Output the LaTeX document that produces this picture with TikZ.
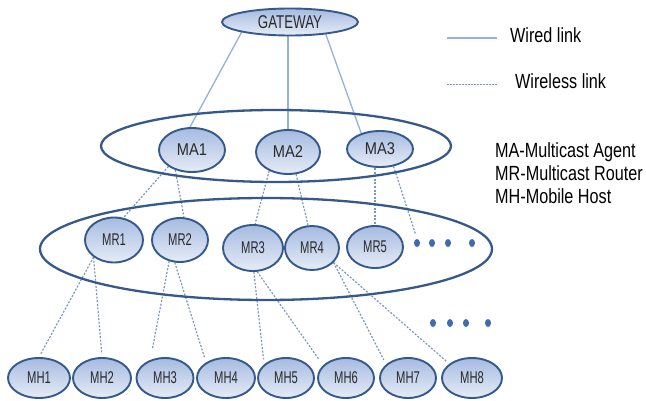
\documentclass[tikz,border=0pt]{standalone}
\usepackage{fontspec}
\usepackage{graphicx}
\setmainfont{Liberation Sans}
\usetikzlibrary{shapes.geometric}
\definecolor{nodeborder}{HTML}{34598A}
\definecolor{nodetop}{HTML}{A6BBE1}
\definecolor{nodebot}{HTML}{E6ECF7}
\definecolor{labelgrey}{HTML}{2A2A2A}
\definecolor{wirecol}{HTML}{93B1DD}
\definecolor{dotcol}{HTML}{3D6DB0}
\newcommand\narrowlab[2]{\scalebox{#1}[1]{#2}}
\pgfdeclarelayer{bg}
\pgfsetlayers{bg,main}
\tikzset{
  hub/.style={ellipse, draw=nodeborder, line width=1.9pt, top color=nodetop,
    bottom color=nodebot, inner sep=0pt, text=labelgrey},
  ring/.style={ellipse, draw=nodeborder, line width=2.3pt, inner sep=0pt},
  wired/.style={draw=wirecol, line width=1.3pt},
  wireless/.style={draw=wirecol!85!black, line width=1.2pt, dash pattern=on 2pt off 1.6pt},
  blob/.style={ellipse, fill=dotcol, minimum width=6, minimum height=8, inner sep=0pt},
  mrlab/.style={font=\fontsize{17}{19}\selectfont},
  legtext/.style={font=\fontsize{20.5}{23}\selectfont, text=black, inner sep=0pt}
}
\begin{document}
\begin{tikzpicture}[x=1pt,y=-1pt]
\useasboundingbox (0,0) rectangle (646,401);
% rings
\node[ring, minimum width=350, minimum height=72] (maring) at (276,146) {};
\node[ring, minimum width=452, minimum height=102] (mrring) at (266,249) {};
% gateway
\node[hub, minimum width=136, minimum height=27, font=\fontsize{18.5}{20}\selectfont] (gw) at (290,22) {\narrowlab{0.72}{GATEWAY}};
% MA
\node[hub, mrlab, minimum width=66, minimum height=44] (ma1) at (192,150) {\narrowlab{0.86}{MA1}};
\node[hub, mrlab, minimum width=64, minimum height=44] (ma2) at (288,152) {\narrowlab{0.86}{MA2}};
\node[hub, mrlab, minimum width=66, minimum height=36] (ma3) at (380,149) {\narrowlab{0.86}{MA3}};
% MR
\node[hub, mrlab, minimum width=58, minimum height=45] (mr1) at (114,240) {\narrowlab{0.66}{MR1}};
\node[hub, mrlab, minimum width=56, minimum height=44] (mr2) at (180,240) {\narrowlab{0.66}{MR2}};
\node[hub, mrlab, minimum width=60, minimum height=46] (mr3) at (253,248) {\narrowlab{0.66}{MR3}};
\node[hub, mrlab, minimum width=54, minimum height=44] (mr4) at (312,248) {\narrowlab{0.66}{MR4}};
\node[hub, mrlab, minimum width=56, minimum height=42] (mr5) at (375,247) {\narrowlab{0.66}{MR5}};
% MH
\node[hub, mrlab, minimum width=62, minimum height=40] (mh1) at (39,378) {\narrowlab{0.66}{MH1}};
\node[hub, mrlab, minimum width=58, minimum height=40] (mh2) at (102,378) {\narrowlab{0.66}{MH2}};
\node[hub, mrlab, minimum width=57, minimum height=40] (mh3) at (165,378) {\narrowlab{0.66}{MH3}};
\node[hub, mrlab, minimum width=58, minimum height=40] (mh4) at (226,378) {\narrowlab{0.66}{MH4}};
\node[hub, mrlab, minimum width=56, minimum height=40] (mh5) at (286,378) {\narrowlab{0.66}{MH5}};
\node[hub, mrlab, minimum width=56, minimum height=40] (mh6) at (346,378) {\narrowlab{0.66}{MH6}};
\node[hub, mrlab, minimum width=56, minimum height=40] (mh7) at (408,378) {\narrowlab{0.66}{MH7}};
\node[hub, mrlab, minimum width=60, minimum height=40] (mh8) at (472,378) {\narrowlab{0.66}{MH8}};
% dots
\node[blob] (d1) at (417,243) {};
\node[blob] (d2) at (432,243) {};
\node[blob] (d3) at (448,243) {};
\node[blob] (d4) at (472,243) {};
\node[blob] (e1) at (433,323) {};
\node[blob] (e2) at (450,323) {};
\node[blob] (e3) at (466,323) {};
\node[blob] (e4) at (488,323) {};
% connectors
\begin{pgfonlayer}{bg}
\draw[wired] (gw.192) -- (ma1.95);
\draw[wired] (gw.south -| ma2.north) -- (ma2.north);
\draw[wired] (gw.341) -- (ma3.140);
\draw[wireless] (ma1.215) -- (mr1.67);
\draw[wireless] (ma1.230) -- (mr2.80);
\draw[wireless] (ma2.225) -- (mr3.85);
\draw[wireless] (ma2.290) -- (mr4.100);
\draw[wireless] (ma3.south -| mr5.north) -- (mr5.north);
\draw[wireless, shorten >=5pt] (ma3.308) -- (d1.north);
\draw[wireless, shorten >=3pt] (mr1.220) -- (mh1.north);
\draw[wireless, shorten >=3pt] (mr1.220) -- (mh2.north);
\draw[wireless, shorten >=12pt] (mr2.243) -- (mh3.129);
\draw[wireless, shorten >=5pt] (mr2.257) -- (mh4.142);
\draw[wireless, shorten >=5pt] (mr3.272) -- (mh5.148);
\draw[wireless, shorten >=8pt] (mr3.280) -- (mh6.151);
\draw[wireless, shorten >=5pt] (mr4.326) -- (mh7.148);
\draw[wireless, shorten >=4pt] (mr4.326) -- (mh8.148);
\end{pgfonlayer}
% legend
\coordinate (wa) at (447,38);
\coordinate (wb) at (497,38);
\coordinate (la) at (447,85);
\coordinate (lb) at (497,85);
\draw[wired] (wa) -- (wb);
\draw[wireless, line width=1pt, dash pattern=on 1.5pt off 1.5pt] (la) -- (lb);
\node[legtext, anchor=west] (wiredtxt) at (510,35) {\narrowlab{0.79}{Wired link}};
\node[legtext, anchor=west] (wltxt) at (515,81) {\narrowlab{0.79}{Wireless link}};
\node[legtext, anchor=north west, align=left] (defs) at (495,142)
  {\narrowlab{0.79}{MA-Multicast Agent}\\\narrowlab{0.79}{MR-Multicast Router}\\\narrowlab{0.79}{MH-Mobile Host}};
\end{tikzpicture}
\end{document}
